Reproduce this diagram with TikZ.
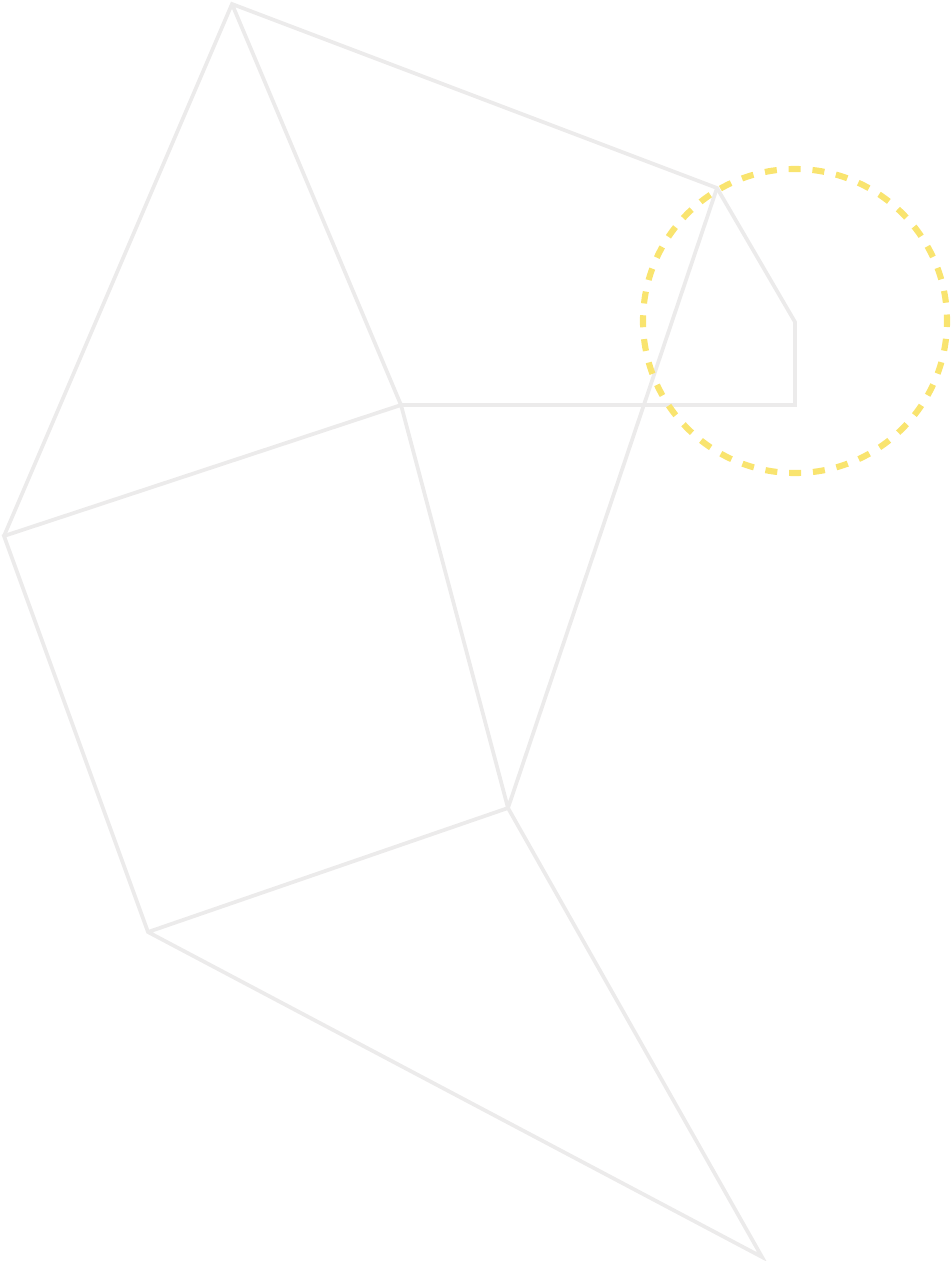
\documentclass[tikz,border=0pt]{standalone}
\usepackage{tikz}
\definecolor{linegray}{HTML}{ECEBEB}
\definecolor{ringyellow}{HTML}{F9E46F}

\begin{document}
\begin{tikzpicture}[x=0.75pt,y=-0.75pt,
        edge/.style={draw=linegray,line width=2.8pt,line join=miter},
        ring/.style={draw=ringyellow,line width=4.6pt,dash pattern=on 9pt off 8.9pt,dash phase=4.5pt}]
        \useasboundingbox (0,0) rectangle (951,1261);
        \coordinate (top)    at (232,4);
        \coordinate (tip)    at (717,188);
        \coordinate (hook)   at (795,322);
        \coordinate (corner) at (795,405);
        \coordinate (mid)    at (401,405);
        \coordinate (left)   at (4,536);
        \coordinate (knee)   at (508,808);
        \coordinate (foot)   at (148,932);
        \coordinate (bottom) at (762,1257);
        \coordinate (eye)    at (795,321);
        \draw[edge] (left) -- (top) -- (tip) -- (hook) -- (corner) -- (mid) -- (top);
        \draw[edge] (tip) -- (knee) -- (bottom) -- (foot) -- (left) -- (mid) -- (knee) -- (foot);
        \draw[ring] (eye) circle (152);
    \end{tikzpicture}
\end{document}
